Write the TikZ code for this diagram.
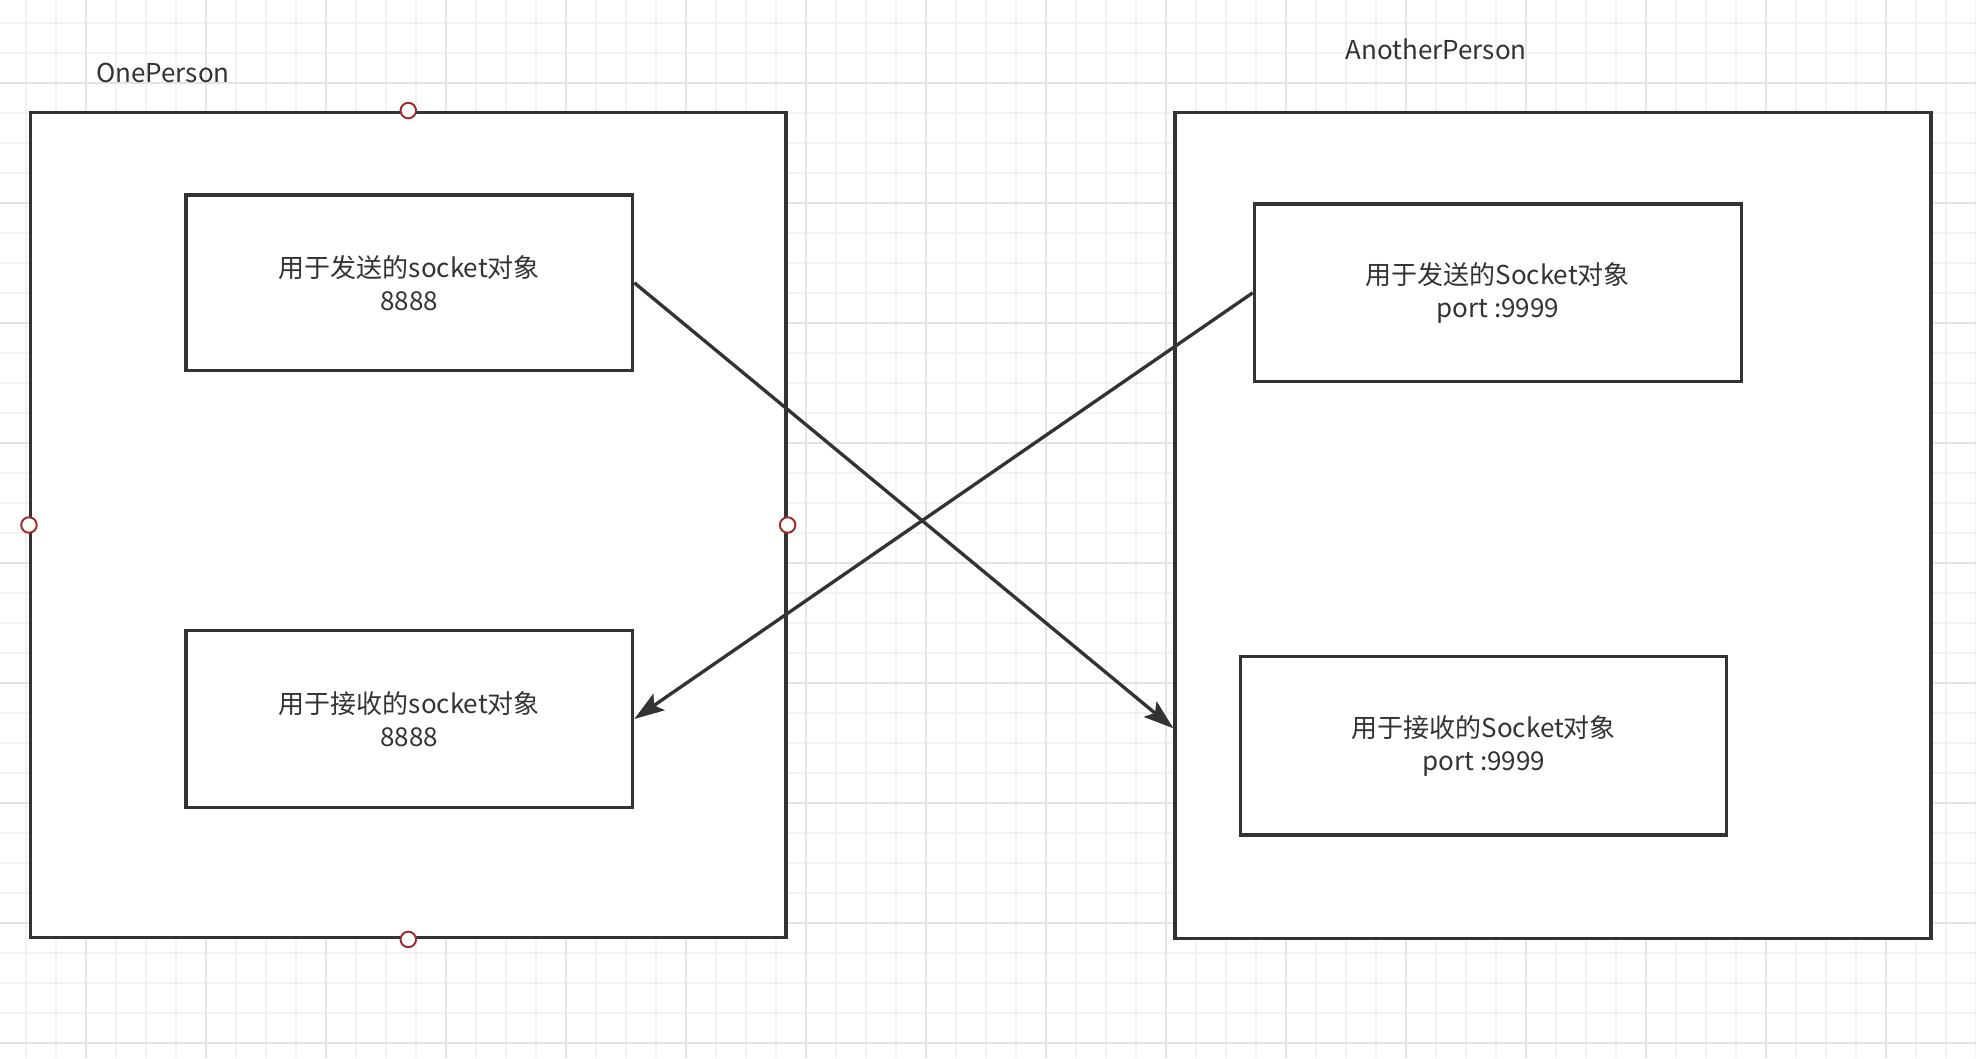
\documentclass[tikz,border=0pt]{standalone}
\usepackage{fontspec}
\setmainfont{Noto Sans CJK SC}
\usetikzlibrary{arrows.meta}

\definecolor{inkgray}{HTML}{333333}
\definecolor{gridlight}{HTML}{F2F2F2}
\definecolor{griddark}{HTML}{E4E4E4}
\definecolor{handlered}{HTML}{9E2A2A}

\tikzset{
    person/.style={draw=inkgray, line width=0.9pt, fill=white, inner sep=0pt},
    sockbox/.style={draw=inkgray, line width=0.9pt, fill=white, inner sep=0pt,
        align=center, text=inkgray, font=\fontsize{7.4}{9.4}\selectfont},
    personlabel/.style={anchor=base west, inner sep=0pt, text=inkgray,
        font=\fontsize{7.4}{9.4}\selectfont},
    handle/.style={circle, draw=handlered, line width=0.55pt, fill=white,
        inner sep=0pt, minimum size=0.155cm},
    flow/.style={draw=inkgray, line width=0.95pt,
        -{Stealth[length=0.3cm, width=0.2cm, inset=0.06cm]}},
}

\begin{document}
\begin{tikzpicture}
        \useasboundingbox (0,0) rectangle (19.76,10.58);
        \fill[white] (0,0) rectangle (19.76,10.58);

        % grid
        \foreach \i in {0,...,65}
            \draw[gridlight, line width=0.35pt] ({0.26+0.3*\i},0) -- ++(0,10.58);
        \foreach \i in {0,...,34}
            \draw[gridlight, line width=0.35pt] (0,{0.15+0.3*\i}) -- ++(19.76,0);
        \foreach \i in {0,...,15}
            \draw[griddark, line width=0.35pt] ({0.86+1.2*\i},0) -- ++(0,10.58);
        \foreach \i in {0,...,8}
            \draw[griddark, line width=0.35pt] (0,{0.15+1.2*\i}) -- ++(19.76,0);

        % the two persons
        \node[person, minimum width=7.555cm, minimum height=8.257cm] (one) at (4.083,5.33) {};
        \node[person, minimum width=7.56cm, minimum height=8.26cm] (another) at (15.53,5.328) {};
        \node[personlabel] (onelabel) at (0.954,9.76) {OnePerson};
        \node[personlabel] (anotherlabel) at (13.45,9.99) {AnotherPerson};

        % sockets
        \node[sockbox, minimum width=4.467cm, minimum height=1.755cm] (sendone) at (4.094,7.752) {用于发送的socket对象\\8888};
        \node[sockbox, minimum width=4.467cm, minimum height=1.766cm] (recvone) at (4.094,3.39) {用于接收的socket对象\\8888};
        \node[sockbox, minimum width=4.868cm, minimum height=1.777cm] (sendanother) at (14.977,7.652) {用于发送的Socket对象\\port :9999};
        \node[sockbox, minimum width=4.86cm, minimum height=1.783cm] (recvanother) at (14.838,3.122) {用于接收的Socket对象\\port :9999};

        % messages
        \coordinate (hit) at (another.west |- 0,3.297);
        \draw[flow] (sendone.east) -- (hit);
        \draw[flow] (sendanother.west) -- (recvone.east);

        % selection handles
        \foreach \a in {north,south,east,west}
            \node[handle] (h-\a) at (one.\a) {};
    \end{tikzpicture}
\end{document}
